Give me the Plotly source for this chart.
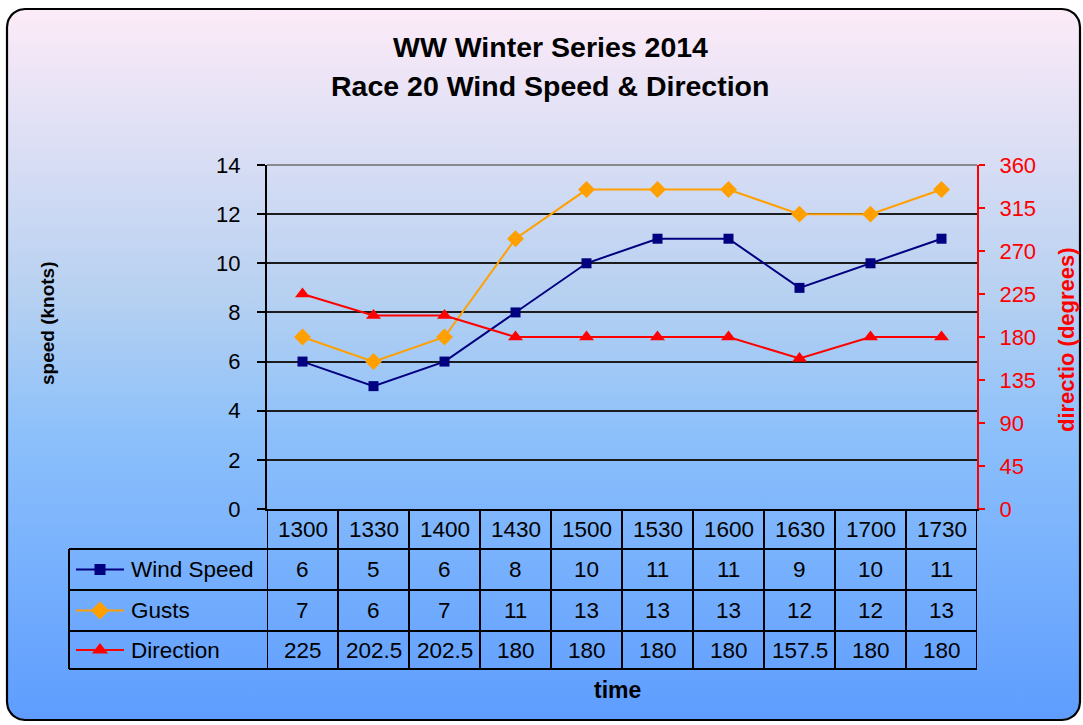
import numpy as np
import plotly.graph_objects as go

# ---- data ----
times = ["1300", "1330", "1400", "1430", "1500", "1530", "1600", "1630", "1700", "1730"]
wind_speed = [6, 5, 6, 8, 10, 11, 11, 9, 10, 11]
gusts = [7, 6, 7, 11, 13, 13, 13, 12, 12, 13]
direction = [225, 202.5, 202.5, 180, 180, 180, 180, 157.5, 180, 180]
direction_txt = ["225", "202.5", "202.5", "180", "180", "180", "180", "157.5", "180", "180"]
series_names = ["Wind Speed", "Gusts", "Direction"]
speed_ticks = list(range(0, 15, 2))
dir_ticks = list(range(0, 361, 45))

W, H = 1083, 725
FONT = "Arial, Liberation Sans, sans-serif"

# plot area in pixels
PL, PR, PT, PB = 267, 977, 165, 509
ROWS = [509, 549, 590, 631, 669]   # table row borders (px from top)
TABLE_LEFT = 69


def py(v):
    # pixel row -> background axis y
    return H - v


fig = go.Figure()

# ---- rounded background with gradient ----
x0, x1, y0, y1, r = 7, 1080, 9, 720, 18
t = np.linspace(0, np.pi / 2, 12)
bx, by = [], []
for cx, cy, a0 in [(x1 - r, y0 + r, -np.pi / 2), (x1 - r, y1 - r, 0),
                   (x0 + r, y1 - r, np.pi / 2), (x0 + r, y0 + r, np.pi)]:
    bx += list(cx + r * np.cos(a0 + t))
    by += list(py(cy + r * np.sin(a0 + t)))
bx.append(bx[0])
by.append(by[0])
fig.add_trace(go.Scatter(
    x=bx, y=by, xaxis="x", yaxis="y", mode="lines", fill="toself",
    line=dict(color="black", width=2.2),
    fillgradient=dict(type="vertical", start=py(720), stop=py(9),
                      colorscale=[[0, "#5e9dff"], [0.40, "#8cc0fb"],
                                  [0.60, "#b7d1f1"], [1, "#fdebf8"]]),
    hoverinfo="skip", showlegend=False,
))

# ---- series ----
styles = [
    dict(color="#000080", symbol="square", size=10),
    dict(color="#ffa000", symbol="diamond", size=13),
    dict(color="#ff0000", symbol="triangle-up", size=13),
]
for name, vals, st, ya in zip(series_names, [wind_speed, gusts, direction], styles,
                              ["y2", "y2", "y3"]):
    fig.add_trace(go.Scatter(
        x=times, y=vals, xaxis="x2", yaxis=ya, name=name, mode="lines+markers",
        line=dict(color=st["color"], width=2),
        marker=dict(symbol=st["symbol"], size=st["size"], color=st["color"]),
        showlegend=False,
    ))

# ---- data table ----
shapes = []
line_k = dict(color="black", width=2)
for row in ROWS[1:]:
    shapes.append(dict(type="line", xref="x", yref="y", x0=TABLE_LEFT, x1=PR,
                       y0=py(row), y1=py(row), line=line_k, layer="above"))
shapes.append(dict(type="line", xref="x", yref="y", x0=TABLE_LEFT, x1=TABLE_LEFT,
                   y0=py(ROWS[1]), y1=py(ROWS[-1]), line=line_k, layer="above"))
for i in range(len(times) + 1):
    shapes.append(dict(type="line", xref="x2", yref="y", x0=i - 0.5, x1=i - 0.5,
                       y0=py(ROWS[0]), y1=py(ROWS[-1]), line=line_k, layer="above"))
# top border of plot area
shapes.append(dict(type="line", xref="x", yref="y", x0=PL, x1=PR, y0=py(PT), y1=py(PT),
                   line=dict(color="#8a8a8a", width=2), layer="above"))

ann = []
cell_font = dict(family=FONT, size=22.5, color="black")
rows_text = [times, [str(v) for v in wind_speed], [str(v) for v in gusts], direction_txt]
for k, vals in enumerate(rows_text):
    yc = py((ROWS[k] + ROWS[k + 1]) / 2)
    for i, v in enumerate(vals):
        ann.append(dict(x=i, y=yc, xref="x2", yref="y", text=v, showarrow=False,
                        font=cell_font, xanchor="center", yanchor="middle"))

# legend keys inside table
for k, (name, st) in enumerate(zip(series_names, styles)):
    yc = py((ROWS[k + 1] + ROWS[k + 2]) / 2)
    fig.add_trace(go.Scatter(
        x=[76, 124], y=[yc, yc], xaxis="x", yaxis="y", mode="lines",
        line=dict(color=st["color"], width=2), hoverinfo="skip", showlegend=False,
    ))
    fig.add_trace(go.Scatter(
        x=[100], y=[yc], xaxis="x", yaxis="y", mode="markers",
        marker=dict(symbol=st["symbol"], size=st["size"] + 1, color=st["color"]),
        hoverinfo="skip", showlegend=False,
    ))
    ann.append(dict(x=129, y=yc, xref="x", yref="y", text=name, showarrow=False,
                    font=cell_font, xanchor="left", yanchor="middle"))

# ---- titles ----
title_font = dict(family=FONT, size=28.5, color="black")
ann.append(dict(x=550, y=py(47), xref="x", yref="y", text="<b>WW Winter Series 2014</b>",
                showarrow=False, font=title_font))
ann.append(dict(x=550, y=py(86), xref="x", yref="y",
                text="<b>Race 20 Wind Speed & Direction</b>", showarrow=False, font=title_font))
ann.append(dict(x=47, y=py(323), xref="x", yref="y", text="<b>speed (knots)</b>",
                showarrow=False, textangle=-90, font=dict(family=FONT, size=19, color="black")))
ann.append(dict(x=1066, y=py(340), xref="x", yref="y", text="<b>directio (degrees)</b>",
                showarrow=False, textangle=-90, font=dict(family=FONT, size=22, color="#ff0000")))
ann.append(dict(x=617, y=py(690), xref="x", yref="y", text="<b>time</b>",
                showarrow=False, font=dict(family=FONT, size=23, color="black")))

fig.update_layout(
    width=W, height=H,
    margin=dict(l=0, r=0, t=0, b=0, pad=0, autoexpand=False),
    paper_bgcolor="white",
    plot_bgcolor="rgba(0,0,0,0)",
    showlegend=False,
    font=dict(family=FONT, size=22, color="black"),
    xaxis=dict(domain=[0, 1], range=[0, W], visible=False, fixedrange=True),
    yaxis=dict(domain=[0, 1], range=[0, H], visible=False, fixedrange=True),
    xaxis2=dict(domain=[PL / W, PR / W], anchor="y2", type="category",
                range=[-0.5, len(times) - 0.5], showticklabels=False, ticks="",
                showgrid=False, showline=True, linecolor="black", linewidth=2,
                zeroline=False),
    yaxis2=dict(domain=[(H - PB) / H, (H - PT) / H], anchor="x2", range=[0, 14],
                tickvals=speed_ticks, ticks="outside", ticklen=8, tickwidth=2,
                tickcolor="black", showline=True, linecolor="black", linewidth=2,
                showgrid=True, gridcolor="#1c1c1c", gridwidth=2, zeroline=False,
                ticklabelstandoff=12, tickfont=dict(size=22, color="black")),
    yaxis3=dict(overlaying="y2", side="right", anchor="x2", range=[0, 360],
                tickvals=dir_ticks, ticks="outside", ticklen=6, tickwidth=2,
                tickcolor="#ff0000", showline=True, linecolor="#ff0000", linewidth=2,
                showgrid=False, zeroline=False, ticklabelstandoff=10,
                tickfont=dict(size=22, color="#ff0000")),
    shapes=shapes,
    annotations=ann,
)

fig.write_html("out.html", config={"displayModeBar": False},
               post_script="document.body.style.margin='0';")
